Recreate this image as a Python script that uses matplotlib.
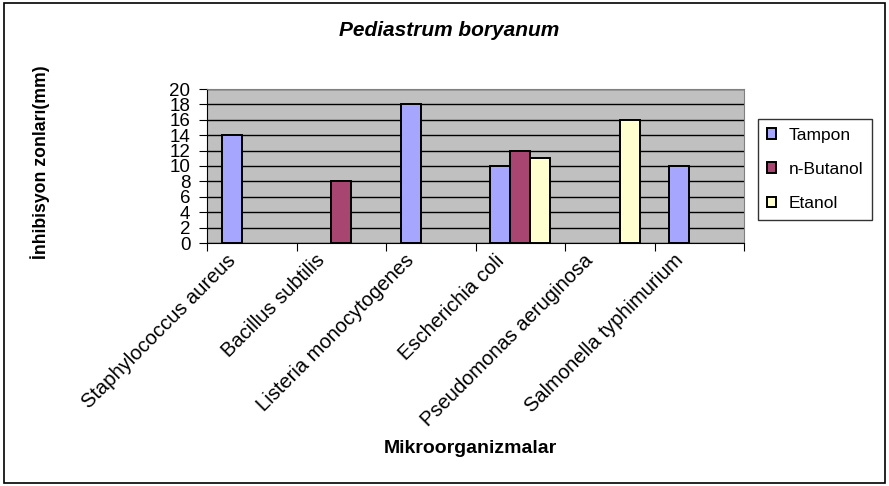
import matplotlib
matplotlib.use("Agg")
import matplotlib.pyplot as plt
import numpy as np
from matplotlib.patches import Rectangle
from matplotlib.transforms import ScaledTranslation, blended_transform_factory

categories = ["Staphylococcus aureus", "Bacillus subtilis", "Listeria monocytogenes",
              "Escherichia coli", "Pseudomonas aeruginosa", "Salmonella typhimurium"]
tampon = [14, 0, 18, 10, 0, 10]
butanol = [0, 8, 0, 12, 0, 0]
etanol = [0, 0, 0, 11, 16, 0]
series_names = ["Tampon", "n-Butanol", "Etanol"]
yticks = list(range(0, 21, 2))

colors = ["#A6A6FF", "#A94571", "#FFFFD0"]

plt.rcParams['font.family'] = ['Liberation Sans', 'DejaVu Sans']

W, H = 889, 486
fig = plt.figure(figsize=(W / 100, H / 100), dpi=100)
ax = fig.add_axes([207 / W, 1 - 243 / H, (744 - 207) / W, (243 - 89) / H])
ax.set_facecolor("#C0C0C0")

x = np.arange(len(categories))
bw = 1 / 4.5
for i, (vals, c, name) in enumerate(zip([tampon, butanol, etanol], colors, series_names)):
    vals = np.asarray(vals, dtype=float)
    m = vals > 0
    ax.bar(x[m] + (i - 1) * bw, vals[m], width=bw, color=c, edgecolor="black",
           linewidth=1.4, label=name, zorder=3)

ax.set_xlim(-0.5, len(categories) - 0.5)
ax.set_ylim(0, 20)
ax.set_yticks(yticks)
ax.set_yticklabels([str(v) for v in yticks], fontsize=13.5)
ax.yaxis.grid(True, color="black", linewidth=1.0, zorder=1)
ax.set_axisbelow(True)

ax.set_xticks(np.arange(-0.5, len(categories) + 0.5, 1))
ax.set_xticklabels([])
ax.tick_params(axis="x", length=6, color="black", direction="out")
ax.tick_params(axis="y", length=6, color="black", pad=6)

trans = blended_transform_factory(ax.transData, ax.transAxes) + \
    ScaledTranslation(-26 / 100, -8 / 100, fig.dpi_scale_trans)
for xi, lab in zip(x, categories):
    ax.text(xi, 0, lab, transform=trans, rotation=45, ha="right", va="top",
            rotation_mode="anchor", fontsize=14.5)

for s in ["top", "right"]:
    ax.spines[s].set_color("#808080")
for s in ["left", "bottom"]:
    ax.spines[s].set_color("black")

fig.text(449 / W, 1 - 31 / H, "Pediastrum boryanum", ha="center", va="center",
         fontsize=15, fontweight="bold", fontstyle="italic")
fig.text(40 / W, 1 - 162 / H, "İnhibisyon zonları(mm)", ha="center", va="center",
         rotation=90, fontsize=12.7, fontweight="bold")
fig.text(470 / W, 1 - 448 / H, "Mikroorganizmalar", ha="center", va="center",
         fontsize=14, fontweight="bold")

leg = fig.legend(loc="upper left", bbox_to_anchor=(758 / W, 1 - 119 / H),
                 fontsize=12.5, frameon=True, fancybox=False, edgecolor="black",
                 handlelength=0.55, handleheight=0.55, handletextpad=0.7,
                 labelspacing=1.1, borderpad=0.5, borderaxespad=0)
leg.get_frame().set_linewidth(1.0)

fig.patches.append(Rectangle((4 / W, 3 / H), (W - 8) / W, (H - 6) / H,
                             transform=fig.transFigure, fill=False,
                             edgecolor="black", linewidth=1.2))

fig.savefig("out.png", dpi=100)
